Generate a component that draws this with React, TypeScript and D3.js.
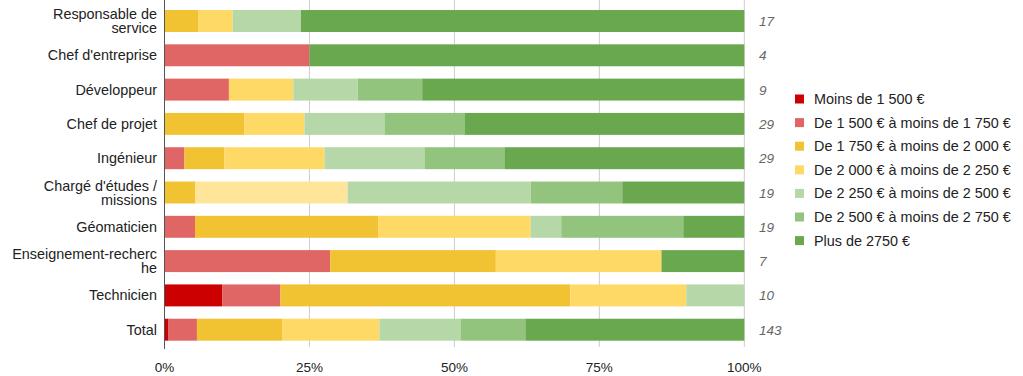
import React from "react";
import * as d3 from "d3";

const categories = [
  "Responsable de service",
  "Chef d'entreprise",
  "Développeur",
  "Chef de projet",
  "Ingénieur",
  "Chargé d'études / missions",
  "Géomaticien",
  "Enseignement-recherche",
  "Technicien",
  "Total",
];
const labelLines: string[][] = [
  ["Responsable de", "service"],
  ["Chef d'entreprise"],
  ["Développeur"],
  ["Chef de projet"],
  ["Ingénieur"],
  ["Chargé d'études /", "missions"],
  ["Géomaticien"],
  ["Enseignement-recherc", "he"],
  ["Technicien"],
  ["Total"],
];
const seriesNames = [
  "Moins de 1 500 €",
  "De 1 500 € à moins de 1 750 €",
  "De 1 750 € à moins de 2 000 €",
  "De 2 000 € à moins de 2 250 €",
  "De 2 250 € à moins de 2 500 €",
  "De 2 500 € à moins de 2 750 €",
  "Plus de 2750 €",
];
const colors = ["#cc0000", "#e06666", "#f1c232", "#ffd966", "#b6d7a8", "#93c47d", "#6aa84f"];
// counts per category, one entry per series
const counts: number[][] = [
  [0, 0, 1, 1, 2, 0, 13],
  [0, 1, 0, 0, 0, 0, 3],
  [0, 1, 0, 1, 1, 1, 5],
  [0, 0, 4, 3, 4, 4, 14],
  [0, 1, 2, 5, 5, 4, 12],
  [0, 0, 1, 5, 6, 3, 4],
  [0, 1, 6, 5, 1, 4, 2],
  [0, 2, 2, 2, 0, 0, 1],
  [1, 1, 5, 2, 1, 0, 0],
  [1, 7, 21, 24, 20, 16, 54],
];
const totals = [17, 4, 9, 29, 29, 19, 19, 7, 10, 143];
const ticks = [0, 0.25, 0.5, 0.75, 1];
// highlighted segment (lighter shade) in the reference
const highlight = { row: 5, series: 3, color: "#ffe599" };

const FONT = "Arial, 'Liberation Sans', sans-serif";

export default function App() {
  const W = 1023, H = 376;
  const x = d3.scaleLinear().domain([0, 1]).range([164.5, 744.3]);
  const y = d3
    .scaleBand<string>()
    .domain(categories)
    .range([3.85, 346.85])
    .paddingInner(0.36)
    .paddingOuter(0.18);

  const stacked = counts.map((row, i) => {
    const tot = d3.sum(row);
    let acc = 0;
    return row.map((v, s) => {
      const x0 = acc / tot;
      acc += v;
      return { s, i, x0, x1: acc / tot, v };
    });
  });

  return (
    <svg
      width={W}
      height={H}
      style={{ position: "absolute", left: 0, top: 0, background: "#fff" }}
      fontFamily={FONT}
    >
      {ticks.slice(1).map((t) => (
        <line key={t} x1={x(t)} x2={x(t)} y1={0} y2={347} stroke="#cccccc" strokeWidth={1} />
      ))}
      {stacked.map((row) =>
        row
          .filter((d) => d.v > 0)
          .map((d) => (
            <rect
              key={`${d.i}-${d.s}`}
              x={x(d.x0)}
              width={x(d.x1) - x(d.x0)}
              y={y(categories[d.i])!}
              height={y.bandwidth()}
              fill={
                d.i === highlight.row && d.s === highlight.series ? highlight.color : colors[d.s]
              }
            />
          ))
      )}
      <line x1={x(0)} x2={x(0)} y1={0} y2={349} stroke="#555" strokeWidth={1} />
      {ticks.map((t) => (
        <text key={t} x={x(t)} y={371.5} textAnchor="middle" fontSize={13.5} fill="#222">
          {d3.format(".0%")(t)}
        </text>
      ))}
      {categories.map((c, i) => {
        const cy = y(c)! + y.bandwidth() / 2;
        const lines = labelLines[i];
        const lh = 14;
        const start = cy - ((lines.length - 1) * lh) / 2;
        return (
          <text key={c} x={157} textAnchor="end" fontSize={14.4} fill="#222">
            {lines.map((l, k) => (
              <tspan key={k} x={157} y={start + k * lh + 5}>
                {l}
              </tspan>
            ))}
          </text>
        );
      })}
      {categories.map((c, i) => (
        <text
          key={c}
          x={759}
          y={y(c)! + y.bandwidth() / 2 + 5}
          fontSize={13.5}
          fontStyle="italic"
          fill="#666"
        >
          {totals[i]}
        </text>
      ))}
      {seriesNames.map((n, s) => {
        const ly = 99 + s * 23.6;
        return (
          <g key={n}>
            <rect x={795} y={ly - 4.5} width={9} height={9} fill={colors[s]} />
            <text x={814} y={ly + 5} fontSize={14.4} fill="#222">
              {n}
            </text>
          </g>
        );
      })}
    </svg>
  );
}
